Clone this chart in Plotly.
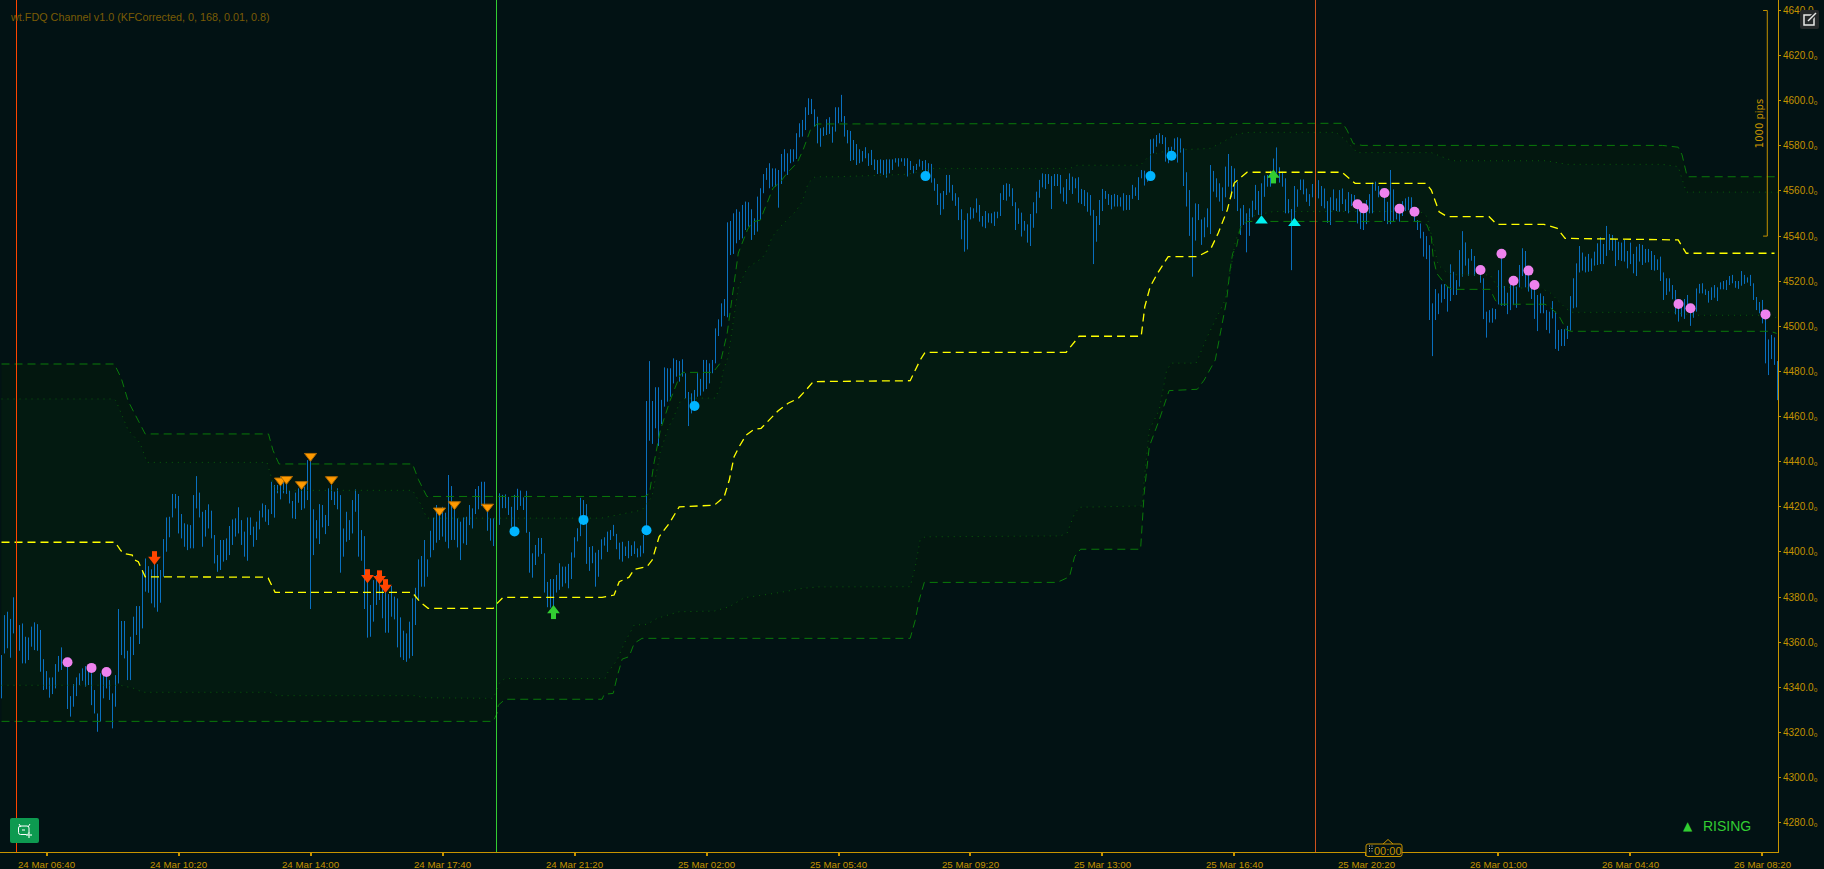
import plotly.graph_objects as go

title_text = "wt.FDQ Channel v1.0 (KFCorrected, 0, 168, 0.01, 0.8)"
x_tick_labels = ["24 Mar 06:40", "24 Mar 10:20", "24 Mar 14:00", "24 Mar 17:40", "24 Mar 21:20",
                 "25 Mar 02:00", "25 Mar 05:40", "25 Mar 09:20", "25 Mar 13:00", "25 Mar 16:40",
                 "25 Mar 20:20", "26 Mar 01:00", "26 Mar 04:40", "26 Mar 08:20"]
x_tick_bars = [15, 59, 103, 147, 191, 235, 279, 323, 367, 411, 455, 499, 543, 587]
y_ticks = [4280, 4300, 4320, 4340, 4360, 4380, 4400, 4420, 4440, 4460, 4480, 4500, 4520,
           4540, 4560, 4580, 4600, 4620, 4640]

bar_high = [
 4354.3,4372,4373.5,4370.3,4379.9,4367.6,4367.6,4368.3,4362.4,4362.1,
 4366.9,4368.8,4368,4365.4,4352.5,4347.2,4344.3,4344.4,4350.3,4353.9,
 4357.7,4352.5,4349.1,4336.1,4341.4,4344.4,4346.2,4348.4,4349.4,4349.1,
 4346.2,4338.8,4328.4,4346.2,4345.4,4344.7,4343.2,4337.3,4345.4,4374.7,
 4369.4,4369.4,4356.2,4362.4,4371.3,4376,4376,4392,4397.1,4393.7,
 4392.3,4395.7,4394.6,4392,4405.7,4415.3,4415.6,4425.7,4425.7,4424.8,
 4416.8,4412.7,4412.2,4411.9,4425.2,4433.6,4426.3,4417.8,4418.6,4421.1,
 4418.3,4407.5,4398.6,4405.3,4405.3,4406,4411.5,4414.4,4414.9,4419.8,
 4414.1,4409,4415.3,4415.3,4411.2,4413.4,4418.3,4421.5,4420.8,4418.9,
 4431.1,4429.7,4429.7,4433.3,4432.6,4431.1,4427.1,4422.6,4426.3,4428.2,
 4428.2,4428.9,4440.7,4442.2,4418.9,4414.1,4421.2,4420.8,4416.4,4428.2,
 4429.7,4426.7,4428.2,4425.2,4410.4,4417.8,4414.1,4423,4427.7,4425.7,
 4409.7,4407,4388.3,4376.5,4387.5,4389.8,4389.8,4384.6,4383.1,4381.3,
 4384.9,4380.2,4379.4,4371,4365.1,4363.9,4369.1,4379.4,4384.1,4396.7,
 4398.2,4405.3,4396.7,4409.4,4415.2,4420.8,4417.8,4420,4417.4,4434.1,
 4429.2,4419.3,4414.9,4413.4,4415.3,4415.6,4420.8,4419.3,4427.9,4429.2,
 4431.1,4431.1,4420,4414.9,4414.9,4424.5,4426,4425.3,4425.5,4424.4,
 4420,4425.3,4428,4427.2,4424.2,4427.1,4408.9,4399.4,4403.1,4406.2,
 4406.2,4399.4,4386.7,4388,4388,4389.8,4395,4393.5,4393.5,4394.7,
 4399.8,4406.5,4410.5,4424,4423,4421.2,4402.2,4402.6,4399.7,4400.9,
 4405.6,4406.5,4409,4409.7,4412,4408,4404.1,4404.5,4402.4,4404.9,
 4403,4404.7,4401.6,4402.8,4407.5,4466.9,4484.6,4466.9,4473,4473,
 4467.4,4481.8,4481.4,4481.4,4485.8,4485.1,4484.6,4485.4,4479.2,4470.9,
 4470.3,4471.8,4479.2,4476.7,4485.1,4485.1,4483.6,4485.1,4499.1,4503.1,
 4510.2,4512.1,4546.1,4546.7,4550.1,4551.9,4550.8,4553.8,4555.3,4555,
 4551.9,4547.9,4557.5,4561.2,4567.5,4570.2,4572.3,4570,4570,4569.3,
 4576.4,4578.5,4576.7,4578.5,4578.5,4585.6,4590,4591.5,4597.1,4601.1,
 4600.8,4596.2,4592.9,4587.8,4588.2,4591.8,4592.7,4588.5,4597.1,4597.1,
 4602.6,4593.2,4587,4586.6,4582.6,4580.8,4578.5,4577.7,4579.4,4576.7,
 4578.2,4574,4573.7,4574,4573.7,4574,4574,4574,4574.5,4574.5,
 4574.5,4574.5,4574.5,4573.3,4571.1,4572,4574,4573.3,4573.7,4572.3,
 4572,4565.6,4563.1,4559,4560,4567.1,4567.1,4562.7,4559,4557.2,
 4551.9,4547.1,4550.1,4552.8,4552.3,4556.7,4553.8,4548.9,4551.1,4550.1,
 4550.1,4550.8,4550.8,4559,4562.7,4563.4,4563.1,4561.2,4555,4552.3,
 4550.4,4546.7,4545.2,4549.8,4555,4559.7,4564.9,4567.8,4567.5,4567.5,
 4566.6,4567.5,4567.5,4567.1,4561.6,4565.3,4567.8,4566.3,4565.6,4566.1,
 4560.9,4560.4,4559.4,4558.2,4551.6,4548.9,4556,4560.9,4560,4558.7,
 4558.2,4558.7,4558.2,4557.2,4559,4558.2,4558.2,4562.7,4561.6,4566.1,
 4569.3,4569,4567.1,4582.9,4583.2,4584.8,4585.6,4584.8,4583.8,4579.4,
 4579.6,4583.3,4583.8,4583.3,4578.9,4568.3,4560.4,4548.3,4554.5,4554.2,
 4547.4,4548.3,4552.3,4571.5,4568.9,4565.6,4563.4,4561.6,4570.8,4576.4,
 4571.1,4570,4564.1,4552.3,4553.8,4550.1,4552.3,4555.7,4562.7,4560,
 4563.4,4566.8,4567.1,4569,4574.4,4579.3,4570.5,4568.5,4565.6,4556.4,
 4552,4562.2,4560.7,4565.1,4565.1,4561.1,4558.6,4563.1,4561.1,4564.8,
 4562.2,4561.1,4555.5,4557.2,4560.7,4556.7,4560.4,4561.1,4556.3,4559.5,
 4558.6,4558.2,4553.8,4552.3,4552.3,4556,4558.6,4563.7,4564.1,4562.2,
 4561.1,4558.2,4555.2,4569.3,4560.7,4550.1,4551.5,4555.5,4556.7,4557.4,
 4557.2,4550.1,4547.1,4545.6,4541.9,4540,4536,4510.2,4516.5,4514.6,
 4518.6,4518.7,4517.6,4527.5,4524.2,4520.5,4533.8,4542.2,4537.2,4530.1,
 4534.3,4531.2,4526.4,4523.5,4521.3,4506.5,4507.2,4508,4507.7,4524.9,
 4530.1,4517.9,4514.9,4518.3,4518.3,4517.6,4527.2,4534.6,4533.4,4522.8,
 4517.6,4517.6,4513.9,4514.6,4513.4,4507.2,4506.5,4511.2,4506.5,4498.4,
 4498.8,4498.7,4500.2,4513.4,4521.3,4527.9,4535.6,4532.7,4530.9,4532.1,
 4530.1,4533.1,4536.8,4539.5,4536.5,4544.5,4540.9,4540.5,4538.6,4537.5,
 4537.1,4538.3,4533.4,4537.1,4532.1,4535.3,4536.5,4536.1,4534.3,4534.3,
 4533.4,4531.6,4529.7,4530.9,4523.9,4521.3,4521.3,4518.3,4516.1,4510.2,
 4508.7,4512.1,4513.9,4508,4508.7,4516.8,4518.8,4519.1,4516.4,4515.7,
 4517.3,4518.3,4517.3,4519.5,4520.1,4520.5,4522.3,4522.8,4520.1,4520.1,
 4524.5,4522.8,4521.7,4522.8,4519.1,4513,4510.8,4511.7,4505,4494.2,
 4496.2,4495.1,4484.6]

bar_low = [
 4335.1,4355,4357.3,4353.1,4363.9,4360.9,4356.2,4350.6,4350.6,4352.1,
 4358,4356.5,4356.2,4346.9,4338.8,4339.1,4335.4,4337,4339.5,4346.9,
 4347.7,4349.1,4330.4,4327,4331.4,4336.1,4341,4342.9,4340.3,4341,
 4332.1,4328.4,4320.3,4324.8,4335.1,4339.5,4334.4,4321.8,4331.4,4341.7,
 4354.3,4352.8,4343.2,4343.2,4354.3,4363.2,4359.2,4366.1,4382.4,4381.9,
 4377.2,4375.4,4373.5,4377.5,4389,4400.1,4406.5,4415.3,4419.3,4408.2,
 4406,4402.3,4400.8,4401.6,4401.6,4419.3,4415.3,4402.3,4406.8,4410.4,
 4406,4394.9,4391.2,4392,4395.7,4396.4,4398.6,4403.1,4406.8,4408.2,
 4403.1,4397.9,4396.1,4407.5,4402.3,4405.3,4410,4415.3,4413.4,4411.9,
 4416.8,4415.2,4426,4423.3,4426,4425.7,4421.5,4414.9,4414.6,4421.8,
 4418.6,4419.3,4423,4374.7,4398.6,4406,4403.5,4410.9,4407.9,4411.5,
 4423,4420.8,4418.9,4390.8,4397.9,4404.5,4405.3,4408.2,4417.8,4397.9,
 4396.1,4374.7,4362,4362.4,4369.1,4376.5,4378.7,4370.6,4364.2,4364.2,
 4371.3,4370.1,4357.7,4353.3,4352.1,4351.3,4352.8,4353.9,4367.6,4379,
 4384.6,4384.6,4389,4397.6,4400.8,4404.1,4405.3,4406.8,4404.5,4401.6,
 4405.3,4405.3,4402,4396.4,4403.8,4403.1,4411.9,4410.4,4416.8,4418.9,
 4420.3,4420.8,4409.4,4405,4402.6,4414.1,4412,4419.4,4419.4,4416.4,
 4411.2,4409,4418.6,4420.4,4418.6,4408.5,4390.8,4388.6,4394.2,4397.9,
 4399.1,4382,4375.5,4375.3,4375.8,4382,4383.2,4384.6,4386.1,4383.9,
 4388,4397.5,4404.7,4407,4412,4394.7,4391.6,4395,4384.6,4389,
 4396.7,4402.8,4400,4405.3,4407,4401.2,4396.7,4395.7,4398.2,4397.2,
 4398.2,4399.1,4397.6,4397.9,4399.4,4410.6,4449.3,4447.9,4454.8,4447,
 4456.7,4464.4,4466.6,4468.8,4474.7,4477.7,4475.5,4477.7,4468.1,4455.8,
 4461.4,4465.9,4468.8,4469.3,4471.1,4472.2,4474.7,4479.2,4483.6,4495.7,
 4499.9,4504.6,4504,4531.6,4532.1,4536.8,4538.3,4539,4542.7,4544.2,
 4538.3,4540.5,4542,4547.1,4559,4564.9,4561.2,4561.9,4561.9,4552.6,
 4563.1,4568.6,4567.1,4572.3,4573,4574.2,4583.8,4584.1,4587,4593.7,
 4594.1,4588.5,4581.1,4579.6,4584.4,4584.8,4585.3,4581.4,4586.3,4590,
 4590.7,4584.1,4581.1,4573.3,4573.7,4571.5,4572.3,4573,4574.5,4571.1,
 4571.5,4569.3,4567.5,4567.8,4567.1,4565.9,4567.8,4569.3,4572.6,4570.8,
 4573,4571.1,4566.4,4569.3,4567.8,4569.3,4570.8,4569.3,4566.4,4567.1,
 4563.7,4560.1,4553.8,4549.4,4551.9,4558.2,4559.3,4555.7,4553.4,4547.1,
 4538.6,4533.1,4534.1,4547.4,4547.9,4550.4,4546.4,4544.2,4543.5,4546,
 4545.7,4544.5,4547.9,4548.9,4556,4555.7,4557.5,4553.3,4542.7,4545.4,
 4539.8,4542.4,4537.1,4535.6,4543.7,4550.1,4557,4561.6,4560.9,4563.1,
 4552,4562.2,4562.2,4558.8,4555.3,4554.2,4560.4,4558.7,4561.2,4554.8,
 4554.2,4553.3,4550.8,4549.1,4527.6,4537.5,4544.9,4551.1,4556.5,4553.8,
 4551.9,4553.1,4553.1,4553.1,4551.3,4551.6,4551.6,4556.5,4557.8,4556,
 4565.6,4562.4,4564.1,4568.6,4576.7,4579.6,4581.1,4580.8,4573,4572.3,
 4577.4,4578.2,4572.6,4577,4562.2,4553.1,4540.1,4522,4538,4547.1,
 4536.1,4539.5,4543.9,4540.9,4559.7,4557.2,4555.3,4551.1,4557.2,4561.9,
 4557.2,4556.5,4551.1,4540.5,4544.9,4532.8,4540.1,4548.3,4551.6,4549.4,
 4549.3,4557.4,4561.9,4561.9,4564.8,4567.8,4563.7,4561.9,4550.1,4550.1,
 4524.9,4547.8,4553,4560.4,4558.5,4555.2,4553.3,4557.2,4556,4556.7,
 4553.3,4552.3,4545.9,4544.9,4551.5,4551.1,4550.8,4554.2,4551.1,4550.1,
 4553.3,4553.3,4545.6,4543.1,4542.7,4545.3,4550.1,4550.1,4560.1,4557.2,
 4558.2,4546.7,4545.3,4545.3,4546.4,4547.4,4546.4,4548.9,4551.1,4551.5,
 4549.3,4546.4,4542.7,4539,4530.9,4529.8,4502.8,4486.8,4502.8,4505.4,
 4510.5,4512.1,4506.5,4511.2,4513.9,4513.9,4517.6,4522,4526.9,4522.4,
 4529.1,4522.4,4523.5,4519.3,4503.2,4495,4501.7,4501.6,4503.1,4509.7,
 4509.1,4509,4505.4,4507.2,4509.4,4508.2,4517.3,4522.3,4517.3,4515.4,
 4512.1,4503.3,4497.9,4505.8,4505.8,4498.4,4496.9,4503.5,4490,4489.1,
 4491.3,4491.3,4494.4,4498.1,4508,4508.4,4523.9,4524.7,4523.9,4524.2,
 4524.5,4526.9,4527.2,4527.6,4527.6,4531.2,4533.8,4533.5,4526.7,4529.4,
 4529,4528.7,4525.7,4527.6,4523.5,4522.3,4528.7,4527.2,4528.2,4528.4,
 4525,4524.7,4525,4520.1,4511.7,4513.9,4515.4,4512,4505.3,4502.1,
 4504.3,4503.3,4507.2,4500.2,4503.8,4506.5,4514.6,4514.6,4513.9,4510.5,
 4511.7,4512.7,4511.2,4516.4,4516.4,4516.1,4518.3,4519.1,4517.1,4516.6,
 4518,4518.8,4519.4,4517.9,4511.7,4507.2,4505.8,4501.3,4483.6,4478.4,
 4485.5,4482.9,4467.3]

upper_idx = [0,37.6,39.9,42.2,47.9,89,90.5,92.5,137,139,141.8,214.5,216,217.5,219.6,222.9,226.2,227.2,237.2,
             239.6,241.9,243.9,245.6,248.6,250.2,252.9,255.2,257.2,259.6,261.9,265.2,267.2,269.6,271.9,
             447.1,448.5,450.6,453.5,553.6,556.2,558.9,560.2,561.9,592.2]
upper_val = [4483.3,4483.3,4477.1,4466.9,4452.3,4452.3,4445,4439,4439,4432,4424.6,4424.6,4426,4439.4,4454,4467.3,4478.4,4479.6,4479.6,
             4483.8,4497,4516.1,4532.5,4542.7,4546.2,4547.1,4554.7,4561.3,4564,4568,4572.4,4578.2,4587,4589.7,
             4590,4587,4581,4580.2,4580.2,4579.9,4579.4,4576,4566.3,4566.3]

updot_idx = [0,37.6,38.2,42.2,46.2,48.5,88.5,89.5,91.2,137,139.6,141.8,200,213.5,216.8,219.6,222.2,223.9,226.2,227.9,237.9,
             239.6,240.6,242.2,243.6,244.6,245.6,248.6,253.6,255.2,256.9,259.6,264.6,266.9,268.9,271.2,278.6,301.9,310.6,
             356.2,358.6,379.6,382.9,388.6,402.9,407.2,411.9,416.2,444.9,448.6,451.9,476.6,483.6,514.9,521.9,553.6,558.9,561.6,592.2]
updot_val = [4467.8,4467.8,4466.9,4454,4448.3,4439.7,4439.7,4435,4427.3,4427.3,4421.5,4415,4415,4418.6,4424.5,4444.4,4454.9,4459.3,4466.6,4468.2,4468.2,
             4473.2,4480.6,4486.4,4498.4,4508.7,4517.4,4525.9,4530.3,4533.8,4539.7,4544.2,4550.8,4555.2,4563.5,4566.3,4566.3,4567.4,4570,
             4570,4571.4,4571.4,4576,4577.9,4578.9,4581.8,4585.3,4586,4586,4581.8,4577,4577,4573.4,4573.4,4571.8,4571.8,4570.8,4559.5,4559.5]

mid_idx = [0,37.9,39.6,40.6,43.6,43.9,45.6,47.9,87.9,88.9,91.2,136.9,139.6,142.2,163.9,165.2,167.2,200.2,204.2,205.9,209.2,210.9,
           215.2,216.9,219.2,222.6,225.9,237.6,240.9,242.6,244.2,245.9,248.2,250.9,253.2,255.9,258.9,262.2,265.6,268.2,270.6,
           302.9,304.6,306.2,307.9,354.9,359.2,379.9,381.1,382.9,385.4,388.9,398.6,402.9,405.6,408.6,410.9,415.2,446.8,451.2,
           474.8,476.6,479.2,481.9,495.9,498.4,514.2,518.6,521.2,558.9,561.6,591]
mid_val = [4404.3,4404.3,4400.9,4399.4,4398.6,4396.7,4395.7,4389,4388.8,4388.4,4382.1,4382.1,4377.7,4375,4375,4377.2,4379.9,4379.9,4380.9,4386.8,4388.8,4392.3,
           4393.5,4396.4,4406.7,4412.7,4420,4420.7,4424.5,4431.9,4442.2,4446.7,4451.8,4454.4,4454.8,4458.5,4462.6,4465.9,4468.1,4471.8,4475.5,
           4475.9,4480.6,4485,4488.5,4488.5,4495.6,4495.6,4508.7,4517.6,4523.6,4530.9,4530.9,4533.8,4541.4,4551.6,4563.5,4568.3,4568.3,4563.4,
           4563.4,4560.4,4550.8,4548.6,4548.6,4545.2,4545.2,4543.4,4539,4538.3,4532.4,4532.4]

lodot_idx = [0,39.6,43.9,47.2,89.6,91.9,138.6,140.2,163.9,166.2,167.9,201.2,201.9,205.2,207.6,210.9,215.2,218.6,225.9,237.6,
             242.6,247.6,258.9,267.2,272.2,302.9,304.6,306.2,307.9,352.9,355.2,357.7,359.4,380.2,380.9,382.6,385.9,388.4,390,398.2,
             401.9,407.9,409.9,411.2,412.9,416.2,423.9,472.9,475.2,477.2,478.9,481.9,485.2,496.2,498.6,506.2,513,516.2,520.9,523.2,557.2,564.2,590.5,592.2]
lodot_val = [4340.9,4340.9,4339.6,4337.8,4337.8,4336.3,4336.3,4335.4,4335.1,4342.5,4343.9,4343.9,4346.2,4352.1,4359.5,4367.6,4367.9,4370.6,4373.5,4373.8,
             4375.7,4379.7,4381.9,4383.9,4384.5,4384.6,4393.5,4405.3,4406.7,4407.1,4408.3,4417.1,4419.8,4420.4,4431.9,4454,4462.9,4480.6,4483.7,4483.7,
             4495.3,4511.7,4526.4,4536.9,4544.2,4548.6,4550.9,4550.9,4548.6,4536.9,4527.2,4523.6,4522.8,4522.8,4517.6,4517,4517,4514.9,4508.7,4506.2,4506.2,4504.9,4504.9,4502.8]

lower_idx = [0,163.9,165.2,165.6,167.9,200.2,200.9,203.9,205.2,206.9,209.2,210.9,213.5,302.9,304.6,305.9,307.6,351.9,356,357.7,359.7,379.7,
             380.9,382.6,385.9,389.2,398.6,400.9,404.6,408.4,409.5,410.4,411.7,412.9,415.2,472.9,475.2,476.6,477.2,478.4,481.9,483.6,496.2,497.9,499,514.5,516.2,519,520.5,521.7,523.2,589.5,591.7]
lower_val = [4324.9,4324.9,4328.5,4332.1,4334.7,4334.7,4336.9,4337.3,4344.7,4352.5,4353.6,4359.5,4361.7,4361.7,4369.8,4378.7,4386.5,4386.5,4389,4397.9,4401.2,4401.2,
             4426.1,4446.7,4458.5,4471.5,4472.1,4476.2,4485.1,4511.7,4525,4532.4,4535.3,4543.5,4546.5,4546.5,4544.9,4539.7,4530.9,4523.5,4517.6,4516.4,4516.4,4511.7,4509.8,4509.8,4508.4,4505,4501.3,4498.4,4497.8,4497.8,4496.9]

pink_idx = [22,30,35,452,454,461,466,471,493,500,504,509,511,559,563,588]
pink_val = [4351.1,4348.6,4346.8,4554.1,4552.3,4559.1,4552.1,4550.8,4525,4532.2,4520.2,4524.7,4518.3,4509.9,4508,4505.3]
blue_idx = [171,194,215,231,308,383,390]
blue_val = [4409.1,4414.2,4409.6,4464.7,4566.6,4566.6,4575.6]
amber_idx = [93,95,100,103,110,146,151,162]
amber_val = [4431.6,4432.3,4430,4442.5,4432.2,4418.3,4421.1,4420]
sell_idx = [51,122,126,128]
sell_val = [4397.8,4389.8,4389.3,4385.4]
buy_idx = [184,424]
buy_val = [4372.8,4565.9]
cyan_idx = [420,431]
cyan_val = [4546.8,4545.7]
red_lines = [5, 438]
green_line = 165
pips_low, pips_high = 4540, 4640

BG = "#021214"
OUTER = "#03170f"
INNER = "#031a11"
GOLD = "#c89400"
GOLD_TXT = "#c49200"
W, H = 1778, 852


def px(x):
    return x / W


def py(y):
    return 1 - y / H


fig = go.Figure()

# channel fills
fig.add_trace(go.Scatter(x=lower_idx, y=lower_val, mode="lines", line=dict(width=0, color=OUTER), hoverinfo="skip"))
fig.add_trace(go.Scatter(x=upper_idx, y=upper_val, mode="lines", line=dict(width=0, color=OUTER), fill="tonexty",
                         fillcolor=OUTER, hoverinfo="skip"))
fig.add_trace(go.Scatter(x=lodot_idx, y=lodot_val, mode="lines", line=dict(width=0, color=INNER), hoverinfo="skip"))
fig.add_trace(go.Scatter(x=updot_idx, y=updot_val, mode="lines", line=dict(width=0, color=INNER), fill="tonexty",
                         fillcolor=INNER, hoverinfo="skip"))

# bars
bx, by = [], []
for i, (hi, lo) in enumerate(zip(bar_high, bar_low)):
    bx += [i, i, None]
    by += [lo, hi, None]
fig.add_trace(go.Scatter(x=bx, y=by, mode="lines", line=dict(color="#0a70c0", width=1), hoverinfo="skip"))

# channel lines
fig.add_trace(go.Scatter(x=upper_idx, y=upper_val, mode="lines", line=dict(color="#0a7a0a", width=1, dash="8px,5px")))
fig.add_trace(go.Scatter(x=lower_idx, y=lower_val, mode="lines", line=dict(color="#0a7a0a", width=1, dash="8px,5px")))
fig.add_trace(go.Scatter(x=updot_idx, y=updot_val, mode="lines", line=dict(color="#0a5c0a", width=1, dash="1px,5px")))
fig.add_trace(go.Scatter(x=lodot_idx, y=lodot_val, mode="lines", line=dict(color="#0a5c0a", width=1, dash="1px,5px")))
fig.add_trace(go.Scatter(x=mid_idx, y=mid_val, mode="lines", line=dict(color="#ffff00", width=1.3, dash="8px,5px")))


def marks(xs, ys, symbol, size, color, edge=None):
    fig.add_trace(go.Scatter(x=xs, y=ys, mode="markers", marker=dict(
        symbol=symbol, size=size, color=color,
        line=dict(width=1 if edge else 0, color=edge or color))))


marks(pink_idx, pink_val, "circle", 10, "#ee82ee")
marks(blue_idx, blue_val, "circle", 10, "#00b4ff")
marks(amber_idx, amber_val, "triangle-down", 10.5, "#ff9a00", "#b06a00")
marks(cyan_idx, cyan_val, "triangle-up", 11, "#00f0f0")
# block arrows: stem and head
fig.add_trace(go.Scatter(x=sell_idx, y=[v + 1.0 for v in sell_val], mode="markers",
                         marker=dict(symbol="line-ns", size=5, line=dict(width=5, color="#ff4500"))))
marks(sell_idx, [v - 1.2 for v in sell_val], "triangle-down", 11, "#ff4500")
fig.add_trace(go.Scatter(x=buy_idx, y=[v - 1.0 for v in buy_val], mode="markers",
                         marker=dict(symbol="line-ns", size=5, line=dict(width=5, color="#32cd32"))))
marks(buy_idx, [v + 1.2 for v in buy_val], "triangle-up", 11, "#32cd32")

# 1000 pips bracket
fig.add_trace(go.Scatter(x=[587.2, 588.6, 588.6, 587.2], y=[pips_high, pips_high, pips_low, pips_low],
                         mode="lines", line=dict(color=GOLD_TXT, width=1)))

shapes = []
for i, col in zip(red_lines, ["#ff4500", "#d2521f"]):
    shapes.append(dict(type="line", xref="x", yref="paper", x0=i, x1=i, y0=0, y1=1, line=dict(color=col, width=1)))
shapes.append(dict(type="line", xref="x", yref="paper", x0=green_line, x1=green_line, y0=0, y1=1,
                   line=dict(color="#32cd32", width=1)))


def rrect(x0, y0, x1, y1, r, fill, line=None):
    p = (f"M {px(x0+r)} {py(y0)} L {px(x1-r)} {py(y0)} Q {px(x1)} {py(y0)} {px(x1)} {py(y0+r)} "
         f"L {px(x1)} {py(y1-r)} Q {px(x1)} {py(y1)} {px(x1-r)} {py(y1)} "
         f"L {px(x0+r)} {py(y1)} Q {px(x0)} {py(y1)} {px(x0)} {py(y1-r)} "
         f"L {px(x0)} {py(y0+r)} Q {px(x0)} {py(y0)} {px(x0+r)} {py(y0)} Z")
    return dict(type="path", xref="paper", yref="paper", path=p, fillcolor=fill,
                line=dict(color=line or fill, width=1 if line else 0))


def seg(x0, y0, x1, y1, color, w=1.5):
    return dict(type="line", xref="paper", yref="paper", x0=px(x0), x1=px(x1), y0=py(y0), y1=py(y1),
                line=dict(color=color, width=w))


# bottom-left bot button
shapes.append(rrect(10, 818, 39, 843, 2, "#0d9a50"))
shapes.append(rrect(18.5, 826, 29, 834.5, 2, "rgba(0,0,0,0)", "#ffffff"))
shapes += [seg(19, 824, 21, 827, "#ffffff", 1), seg(30, 824, 28, 827, "#ffffff", 1),
           seg(22, 830, 25, 830, "#ffffff", 1), seg(26, 835, 32, 835, "#b8e8cc", 1.5), seg(29, 832, 29, 838, "#b8e8cc", 1.5)]
# top-right expand button
shapes.append(rrect(1800, 10, 1819, 29, 2, "#25282a"))
shapes.append(dict(type="rect", xref="paper", yref="paper", x0=px(1804), x1=px(1814), y0=py(15), y1=py(25),
                   line=dict(color="#e8e8e8", width=1.5), fillcolor="rgba(0,0,0,0)"))
shapes += [seg(1808, 21, 1816, 13, "#25282a", 4), seg(1808, 21, 1816, 13, "#e8e8e8", 1.5)]
# time box
shapes.append(rrect(1366, 844, 1402, 856.5, 2, BG, GOLD))
shapes += [seg(1383, 844, 1388, 839.5, GOLD, 1), seg(1388, 839.5, 1393, 844, GOLD, 1)]
for yy in [846, 848.5, 851]:
    shapes += [seg(1369, yy, 1370, yy, "#cfcfcf", 1), seg(1371.5, yy, 1372.5, yy, "#cfcfcf", 1)]

annotations = [
    dict(xref="paper", yref="paper", x=px(8), y=py(17), xanchor="left", yanchor="middle", showarrow=False,
         text=title_text, font=dict(family="Liberation Sans", size=10.8, color="#7a5c05")),
    dict(xref="x", yref="y", x=585.8, y=4590, textangle=-90, showarrow=False, text="1000 pips",
         font=dict(family="DejaVu Sans", size=10, color=GOLD_TXT)),
    dict(xref="paper", yref="paper", x=px(1688), y=py(826), xanchor="center", yanchor="middle", showarrow=False,
         text="▲", font=dict(family="DejaVu Sans", size=12, color="#32cd32")),
    dict(xref="paper", yref="paper", x=px(1701), y=py(826), xanchor="left", yanchor="middle", showarrow=False,
         text="RISING", font=dict(family="Liberation Sans", size=14, color="#32cd32")),
    dict(xref="paper", yref="paper", x=px(1388), y=py(851), xanchor="center", yanchor="middle", showarrow=False,
         text="00:00", font=dict(family="Liberation Sans", size=11, color=GOLD_TXT)),
]

fig.update_layout(
    width=1824, height=869, margin=dict(l=0, r=46, t=0, b=17, pad=0),
    paper_bgcolor=BG, plot_bgcolor=BG, showlegend=False, hovermode=False,
    shapes=shapes, annotations=annotations,
    xaxis=dict(range=[-0.5, 592.17], tickmode="array", tickvals=x_tick_bars, ticktext=x_tick_labels,
               showgrid=False, zeroline=False, showline=True, linecolor=GOLD, linewidth=1,
               ticks="outside", ticklen=3, tickwidth=2, tickcolor=GOLD, tickangle=0,
               tickfont=dict(family="Liberation Sans", size=9.7, color=GOLD_TXT)),
    yaxis=dict(range=[4267.0, 4644.65], side="right", tickmode="array", tickvals=y_ticks,
               ticktext=[f"{v}.0₀" for v in y_ticks],
               showgrid=False, zeroline=False, showline=True, linecolor=GOLD, linewidth=1,
               ticks="outside", ticklen=2, tickwidth=1, tickcolor=GOLD,
               tickfont=dict(family="Liberation Sans", size=10, color=GOLD_TXT)),
)

assert len(bar_high) == len(bar_low) == 593, (len(bar_high), len(bar_low))
for a, b in [(upper_idx, upper_val), (updot_idx, updot_val), (mid_idx, mid_val), (lodot_idx, lodot_val), (lower_idx, lower_val)]:
    assert len(a) == len(b), (len(a), len(b))

fig.write_html("out.html", config=dict(displayModeBar=False),
               post_script="document.body.style.margin='0';document.body.style.overflow='hidden';")
